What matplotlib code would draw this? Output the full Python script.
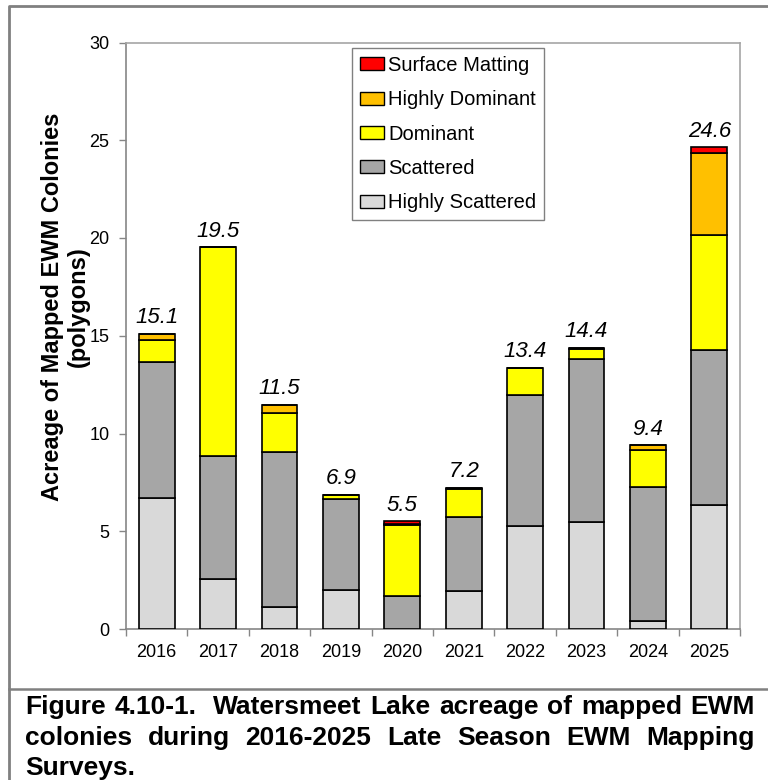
import matplotlib
matplotlib.use('Agg')
from matplotlib import pyplot
from matplotlib import lines
from matplotlib import patches
from matplotlib.legend_handler import HandlerPatch

pyplot.rcParams['font.family'] = ['Liberation Sans', 'DejaVu Sans']

YEARS = ['2016', '2017', '2018', '2019', '2020',
         '2021', '2022', '2023', '2024', '2025']
HIGHLY_SCATTERED = [6.70, 2.56, 1.13, 2.01, 0.00, 1.93, 5.27, 5.48, 0.39, 6.36]
SCATTERED = [6.95, 6.28, 7.90, 4.66, 1.70, 3.78, 6.71, 8.31, 6.85, 7.89]
DOMINANT = [1.12, 10.68, 2.03, 0.20, 3.64, 1.46, 1.38, 0.55, 1.94, 5.92]
HIGHLY_DOMINANT = [0.33, 0.00, 0.42, 0.00, 0.04, 0.05, 0.00, 0.05, 0.22, 4.20]
SURFACE_MATTING = [0.00, 0.00, 0.00, 0.00, 0.12, 0.00, 0.00, 0.00, 0.00, 0.26]

SERIES = [
    ('Highly Scattered', HIGHLY_SCATTERED, '#d9d9d9'),
    ('Scattered', SCATTERED, '#a6a6a6'),
    ('Dominant', DOMINANT, '#ffff00'),
    ('Highly Dominant', HIGHLY_DOMINANT, '#ffc000'),
    ('Surface Matting', SURFACE_MATTING, '#ff0000'),
]

CAPTION = [
    'Figure 4.10-1.  Watersmeet Lake acreage of mapped EWM',
    'colonies during 2016-2025 Late Season EWM Mapping',
    'Surveys.',
]

W, H = 768, 780
AXIS_COLOR = '#868686'
CAPTION_SIZE = 19


def square_handle(legend, orig_handle, xdescent, ydescent, width, height,
                  fontsize):
  # small square pushed to the right end of the handle box
  s = 0.62 * fontsize
  return patches.Rectangle(
      (-xdescent + width - s, -ydescent + (height - s) / 2.0), s, s)


def justify(fig, renderer, text, y_px, left_px, right_px, last=False):
  words = text.split(' ')
  artists = []
  widths = []
  for w in words:
    if w:
      t = fig.text(0, 1 - y_px / H, w, fontsize=CAPTION_SIZE,
                   fontweight='bold', va='baseline', ha='left')
      artists.append(t)
      widths.append(t.get_window_extent(renderer).width)
    else:
      artists.append(None)
      widths.append(0.0)
  if last:
    gap_w = 0.28 * CAPTION_SIZE * 100 / 72.0
  else:
    gap_w = (right_px - left_px - sum(widths)) / (len(words) - 1)
  x = left_px
  for t, w in zip(artists, widths):
    if t is not None:
      t.set_x(x / W)
    x += w + gap_w


def main():
  fig = pyplot.figure(figsize=(W / 100.0, H / 100.0), dpi=100)
  ax = fig.add_axes([126.0 / W, 1 - 629.0 / H, 614.0 / W, 586.5 / H])

  xs = list(range(len(YEARS)))
  bottoms = [0.0] * len(YEARS)
  handles = []
  for name, values, color in SERIES:
    bars = ax.bar(xs, values, 0.586, bottom=bottoms, color=color,
                  edgecolor='black', linewidth=1.2, label=name, zorder=3)
    handles.append(bars)
    bottoms = [b + v for b, v in zip(bottoms, values)]

  for x, total in zip(xs, bottoms):
    ax.annotate('%.1f' % total, (x, total), xytext=(0, 4),
                textcoords='offset points', ha='center', va='bottom',
                fontsize=16, fontstyle='italic')

  ax.set_xlim(-0.5, len(YEARS) - 0.5)
  ax.set_ylim(0, 30)
  ax.set_yticks(range(0, 31, 5))
  ax.set_xticks(xs)
  ax.set_xticklabels(YEARS)
  ax.set_xticks([x + 0.5 for x in range(-1, len(YEARS))], minor=True)
  ax.tick_params(axis='x', which='major', length=0, pad=11, labelsize=13)
  ax.tick_params(axis='x', which='minor', length=5, width=1,
                 color=AXIS_COLOR, direction='out')
  ax.tick_params(axis='y', length=5, width=1, color=AXIS_COLOR,
                 direction='out', pad=7, labelsize=13)
  ax.spines['left'].set_color(AXIS_COLOR)
  ax.spines['bottom'].set_color(AXIS_COLOR)
  ax.spines['top'].set_color('#a6a6a6')
  ax.spines['right'].set_color('#a6a6a6')
  for s in ax.spines.values():
    s.set_linewidth(1.2)

  fig.text(65.5 / W, 1 - 307.0 / H, 'Acreage of Mapped EWM Colonies\n(polygons)',
           rotation=90, ha='center', va='center', multialignment='center',
           fontsize=17, fontweight='bold', linespacing=1.15)

  leg = fig.legend(handles[::-1], [s[0] for s in SERIES][::-1],
                   loc='upper left', bbox_to_anchor=(352.0 / W, 1 - 48.0 / H),
                   bbox_transform=fig.transFigure, borderaxespad=0,
                   fontsize=14.5, fancybox=False, framealpha=1,
                   edgecolor='#808080', borderpad=0.4, handlelength=1.2,
                   handleheight=0.62, handletextpad=0.2, labelspacing=0.76,
                   handler_map={patches.Rectangle:
                                HandlerPatch(patch_func=square_handle)})
  leg.get_frame().set_linewidth(1.0)
  for h in leg.legend_handles:
    h.set_linewidth(1.0)

  # outer frame and caption separator
  fig.add_artist(lines.Line2D([9.0 / W, 9.0 / W, 1.0], [0.0, 1 - 6.0 / H, 1 - 6.0 / H],
                              transform=fig.transFigure, color='#808080',
                              linewidth=2.0))
  fig.add_artist(lines.Line2D([9.0 / W, 1.0], [1 - 689.0 / H, 1 - 689.0 / H],
                              transform=fig.transFigure, color='#808080',
                              linewidth=1.8))

  renderer = fig.canvas.get_renderer()
  justify(fig, renderer, CAPTION[0], 714.0, 25.0, 755.0)
  justify(fig, renderer, CAPTION[1], 745.0, 25.0, 755.0)
  justify(fig, renderer, CAPTION[2], 775.0, 25.0, 755.0, last=True)

  fig.savefig('out.png', dpi=100)


if __name__ == '__main__':
  main()
